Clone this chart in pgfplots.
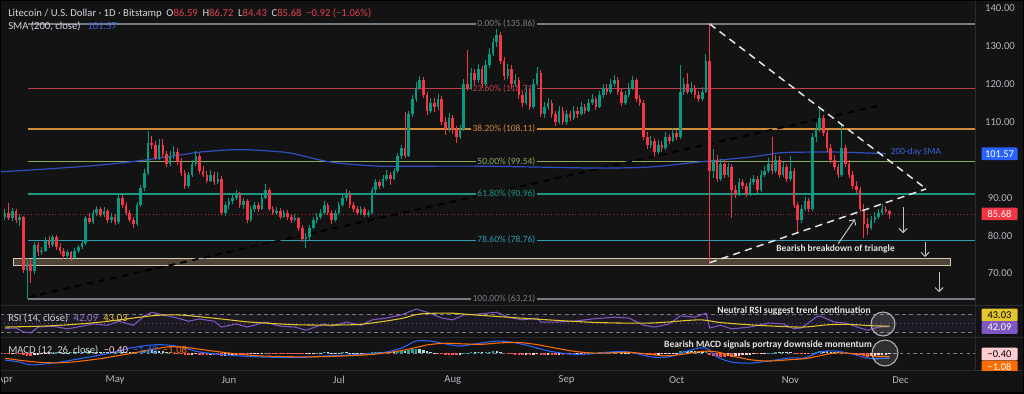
\documentclass[border=0pt]{standalone}
\usepackage{pgfplots}
\pgfplotsset{compat=1.18}
\usepackage{pgfplotstable}
\usepackage{fontspec}
\setmainfont{Carlito}
\usetikzlibrary{arrows.meta}

\definecolor{bg}{HTML}{131313}
\definecolor{sep}{HTML}{2B2B2B}
\definecolor{axtxt}{HTML}{B2B5BE}
\definecolor{hdr}{HTML}{D1D4DC}
\definecolor{upc}{HTML}{089981}
\definecolor{dnc}{HTML}{F23645}
\definecolor{hred}{HTML}{E0404F}
\definecolor{smac}{HTML}{2E4FC4}
\definecolor{smat}{HTML}{3A62E0}
\definecolor{fibg}{HTML}{787B86}
\definecolor{fibr}{HTML}{C23E4E}
\definecolor{fibo}{HTML}{D08B3A}
\definecolor{fibgr}{HTML}{8AAE5C}
\definecolor{fibt}{HTML}{1E9683}
\definecolor{fibc}{HTML}{2C9CB2}
\definecolor{rsic}{HTML}{7E57C2}
\definecolor{rsim}{HTML}{E3C52E}
\definecolor{macdc}{HTML}{2962FF}
\definecolor{sigc}{HTML}{FF6D00}
\definecolor{hA}{HTML}{26A69A}
\definecolor{hB}{HTML}{B2DFDB}
\definecolor{hC}{HTML}{FFCDD2}
\definecolor{hD}{HTML}{FF5252}
\definecolor{tanb}{HTML}{D6C6AC}
\definecolor{tanf}{HTML}{4E4438}
\definecolor{annot}{HTML}{E6E6E6}
\newcommand{\tvf}[1]{\fontsize{#1}{#1}\selectfont}

\pgfplotstableread{
d o h l c
0 85.0 87.0 84.0 86.0
1 86.0 88.7 84.0 84.5
2 84.5 87.2 83.8 86.5
3 86.5 87.0 83.2 84.0
4 84.0 85.6 82.5 84.8
5 84.8 85.2 70.2 71.0
6 71.0 74.0 63.21 72.5
7 72.5 73.8 67.4 70.5
8 70.5 78.2 69.8 77.5
9 77.5 78.4 74.6 75.5
10 75.5 77.0 74.8 76.0
11 76.0 79.6 75.5 78.5
12 78.5 79.8 76.8 77.5
13 77.5 80.2 77.0 79.5
14 79.5 80.0 76.2 77.0
15 77.0 78.0 75.2 76.0
16 76.0 76.8 73.8 74.5
17 74.5 76.2 73.9 75.5
18 75.5 76.0 73.2 74.0
19 74.0 76.8 73.6 76.0
20 76.0 77.6 75.4 77.0
21 77.0 78.8 76.3 78.0
22 78.0 85.2 77.6 84.5
23 84.5 85.8 82.9 83.5
24 83.5 86.8 83.0 86.0
25 86.0 87.9 85.2 87.0
26 87.0 87.6 84.8 85.5
27 85.5 87.4 85.0 86.5
28 86.5 87.0 83.2 84.0
29 84.0 85.9 83.4 85.0
30 85.0 85.6 82.8 83.5
31 83.5 91.2 83.0 90.0
32 90.0 90.8 87.2 88.0
33 88.0 88.9 85.4 86.0
34 86.0 86.8 83.5 84.0
35 84.0 84.9 82.0 83.0
36 83.0 88.9 82.6 88.0
37 88.0 93.4 87.5 92.5
38 92.5 97.5 91.8 96.5
39 96.5 107.5 95.9 104.5
40 104.5 106.2 102.8 104.0
41 104.0 105.0 99.8 100.5
42 100.5 105.6 100.0 104.0
43 104.0 105.4 100.6 101.5
44 101.5 102.4 98.2 99.0
45 99.0 102.2 98.4 101.0
46 101.0 103.6 100.2 102.0
47 102.0 103.0 98.6 99.5
48 99.5 100.4 95.8 96.5
49 96.5 97.2 92.4 93.0
50 93.0 96.8 92.6 96.0
51 96.0 99.8 95.5 99.0
52 99.0 102.3 98.4 101.0
53 101.0 101.8 96.2 97.0
54 97.0 98.4 95.4 96.0
55 96.0 97.0 93.8 94.5
56 94.5 97.2 94.0 96.0
57 96.0 96.8 93.2 94.0
58 94.0 96.8 93.5 95.0
59 95.0 95.8 85.4 86.0
60 86.0 88.9 85.2 88.0
61 88.0 89.8 87.1 89.0
62 89.0 91.0 88.2 90.0
63 90.0 92.0 89.3 91.0
64 91.0 91.6 87.2 88.0
65 88.0 89.8 87.0 89.0
66 89.0 89.6 83.2 84.0
67 84.0 87.8 83.6 87.0
68 87.0 88.9 86.1 88.0
69 88.0 88.8 86.2 87.0
70 87.0 90.9 86.6 90.0
71 90.0 93.7 89.5 92.0
72 92.0 92.6 86.4 87.0
73 87.0 87.9 85.3 86.0
74 86.0 87.5 85.5 86.5
75 86.5 87.2 84.3 85.0
76 85.0 86.8 84.6 86.0
77 86.0 86.7 84.2 85.0
78 85.0 85.7 83.3 84.0
79 84.0 85.6 83.5 84.5
80 84.5 85.0 81.3 82.0
81 82.0 82.8 78.4 79.0
82 79.0 80.6 76.8 79.5
83 79.5 82.8 78.9 82.0
84 82.0 84.9 81.6 84.0
85 84.0 85.8 83.2 85.0
86 85.0 86.9 84.4 86.0
87 86.0 89.2 85.5 88.0
88 88.0 88.7 85.3 86.0
89 86.0 86.8 83.1 84.0
90 84.0 86.7 83.5 86.0
91 86.0 88.9 85.4 88.0
92 88.0 90.8 87.6 90.0
93 90.0 92.4 89.2 91.0
94 91.0 91.8 87.3 88.0
95 88.0 88.8 86.3 87.0
96 87.0 87.9 85.4 86.0
97 86.0 87.8 85.5 87.0
98 87.0 87.6 84.8 85.5
99 85.5 86.8 84.9 86.0
100 86.0 92.9 85.6 92.0
101 92.0 94.8 91.3 94.0
102 94.0 94.7 92.2 93.0
103 93.0 95.9 92.5 95.0
104 95.0 97.2 94.3 96.0
105 96.0 96.8 93.2 95.0
106 95.0 97.8 94.6 97.0
107 97.0 101.8 96.4 101.0
108 101.0 103.9 100.2 103.0
109 103.0 112.5 100.4 101.0
110 101.0 112.8 100.6 112.0
111 112.0 117.2 111.4 116.0
112 116.0 120.4 115.2 119.0
113 119.0 122.2 118.3 121.0
114 121.0 121.9 116.2 117.0
115 117.0 117.8 111.8 113.0
116 113.0 116.3 112.4 115.0
117 115.0 116.2 112.6 114.0
118 114.0 117.4 113.2 116.0
119 116.0 116.8 109.2 110.0
120 110.0 111.2 106.6 108.0
121 108.0 112.3 107.4 111.0
122 111.0 111.8 106.8 108.0
123 108.0 108.9 104.4 106.0
124 106.0 109.2 105.4 108.0
125 108.0 121.2 107.5 120.0
126 120.0 129.0 118.2 119.0
127 119.0 124.3 118.4 123.0
128 123.0 124.0 119.8 121.0
129 121.0 125.4 120.2 124.0
130 124.0 124.8 118.9 120.0
131 120.0 126.3 119.4 125.0
132 125.0 129.4 124.2 128.0
133 128.0 132.2 127.3 131.0
134 131.0 134.5 129.8 133.0
135 133.0 133.8 125.2 126.0
136 126.0 127.2 121.0 122.0
137 122.0 125.4 121.3 124.0
138 124.0 124.9 118.8 120.0
139 120.0 122.6 119.2 121.0
140 121.0 121.8 116.1 117.0
141 117.0 118.2 114.0 115.0
142 115.0 119.2 114.4 118.0
143 118.0 118.9 113.2 114.0
144 114.0 121.3 113.5 120.0
145 120.0 124.5 119.4 123.0
146 123.0 123.8 111.2 112.0
147 112.0 115.3 111.0 114.0
148 114.0 116.4 113.2 115.0
149 115.0 115.8 110.9 112.0
150 112.0 112.9 108.8 110.0
151 110.0 114.2 109.4 113.0
152 113.0 113.8 109.2 110.0
153 110.0 113.2 109.1 112.0
154 112.0 112.8 110.2 111.0
155 111.0 114.3 110.4 113.0
156 113.0 113.9 111.1 112.0
157 112.0 115.2 111.5 114.0
158 114.0 114.8 112.2 113.0
159 113.0 116.1 112.6 115.0
160 115.0 117.3 114.4 116.0
161 116.0 116.7 113.1 114.0
162 114.0 118.2 113.6 117.0
163 117.0 120.1 116.4 119.0
164 119.0 119.9 117.2 118.0
165 118.0 121.4 117.3 120.0
166 120.0 122.3 119.2 121.0
167 121.0 121.8 117.2 118.0
168 118.0 118.7 114.3 115.0
169 115.0 118.1 114.4 117.0
170 117.0 120.2 116.5 119.0
171 119.0 122.0 118.4 121.0
172 121.0 121.6 115.2 116.0
173 116.0 117.1 114.1 115.0
174 115.0 115.8 105.2 106.0
175 106.0 107.2 102.9 104.0
176 104.0 106.3 103.2 105.0
177 105.0 105.8 100.7 102.0
178 102.0 105.1 101.4 104.0
179 104.0 104.9 102.1 103.0
180 103.0 107.2 102.5 106.0
181 106.0 106.8 104.2 105.0
182 105.0 108.3 104.6 107.0
183 107.0 107.9 105.1 106.0
184 106.0 125.0 105.6 118.0
185 118.0 121.6 117.2 120.0
186 120.0 122.8 117.3 118.0
187 118.0 120.4 117.4 119.0
188 119.0 119.8 116.2 117.0
189 117.0 118.1 115.3 116.0
190 116.0 119.2 115.5 118.0
191 118.0 128.0 117.6 126.0
192 126.0 135.86 72.5 97.0
193 97.0 102.8 95.2 100.0
194 100.0 101.2 94.1 95.0
195 95.0 100.3 94.4 99.0
196 99.0 99.9 95.1 96.0
197 96.0 99.2 95.4 98.0
198 98.0 98.8 84.7 92.0
199 92.0 93.2 89.8 91.0
200 91.0 95.1 90.4 94.0
201 94.0 94.9 92.2 93.0
202 93.0 93.8 90.1 91.0
203 91.0 95.2 90.5 94.0
204 94.0 96.1 93.4 95.0
205 95.0 95.7 91.2 92.0
206 92.0 97.2 91.5 96.0
207 96.0 98.3 95.4 97.0
208 97.0 100.4 96.5 99.0
209 99.0 106.0 96.2 97.0
210 97.0 101.3 96.4 100.0
211 100.0 100.9 95.1 96.0
212 96.0 99.4 95.5 98.0
213 98.0 98.8 94.2 95.0
214 95.0 101.0 94.4 97.0
215 97.0 97.8 87.2 88.0
216 88.0 88.9 81.0 84.0
217 84.0 88.1 83.4 87.0
218 87.0 90.2 86.4 89.0
219 89.0 89.9 86.2 87.0
220 87.0 107.0 86.5 106.0
221 106.0 109.6 104.8 108.0
222 108.0 113.5 107.2 111.0
223 111.0 111.8 106.2 107.0
224 107.0 107.9 102.1 103.0
225 103.0 104.2 99.2 100.0
226 100.0 101.3 97.2 98.0
227 98.0 98.9 95.1 96.0
228 96.0 109.5 95.4 103.0
229 103.0 103.9 98.2 99.0
230 99.0 99.8 95.1 96.0
231 96.0 97.1 92.2 93.0
232 93.0 94.3 91.2 92.0
233 92.0 92.8 86.3 87.0
234 87.0 88.2 79.4 83.0
235 83.0 84.6 80.2 82.0
236 82.0 85.1 81.4 84.0
237 84.0 86.2 83.3 85.0
238 85.0 87.1 84.4 86.0
239 86.0 88.2 85.3 87.0
240 87.0 87.9 85.8 86.59
241 86.59 86.72 84.43 85.68
}\candles

\pgfplotstableread{
v k
-0.3 4
-0.4 4
-0.3 3
-0.3 4
-0.4 4
-0.6 4
-0.8 4
-0.9 4
-0.7 3
-0.5 3
-0.4 3
-0.3 3
-0.2 3
0.1 1
0.2 1
0.2 2
0.1 2
0.1 2
0.2 1
0.2 2
0.3 1
0.4 1
0.5 1
0.5 2
0.4 2
0.4 2
0.3 2
0.3 2
0.2 2
0.2 2
0.2 2
0.4 1
0.4 2
0.3 2
0.2 2
0.2 2
0.4 1
0.6 1
0.8 1
1.0 1
0.9 2
0.7 2
0.7 2
0.5 2
0.3 2
0.2 2
-0.1 4
-0.2 4
-0.4 4
-0.6 4
-0.6 4
-0.5 3
-0.4 3
-0.5 4
-0.5 4
-0.6 4
-0.5 3
-0.5 4
-0.5 4
-0.9 4
-0.8 3
-0.7 3
-0.6 3
-0.5 3
-0.5 4
-0.6 4
-0.6 4
-0.4 3
-0.3 3
-0.2 3
-0.1 3
0.1 1
-0.1 4
-0.2 4
-0.2 4
-0.2 4
-0.2 4
-0.2 4
-0.2 4
-0.2 4
-0.3 4
-0.4 4
-0.3 3
-0.2 3
-0.1 3
0.1 1
0.1 2
0.2 1
0.2 2
0.1 2
0.1 2
0.1 2
0.2 1
0.2 2
0.1 2
0.1 2
0.05 2
0.05 2
-0.05 4
0.05 1
0.3 1
0.4 1
0.4 2
0.4 2
0.4 2
0.4 2
0.4 2
0.5 1
0.6 1
0.6 2
0.9 1
1.1 1
1.2 1
1.1 2
0.8 2
0.5 2
0.3 2
0.1 2
-0.1 4
-0.3 4
-0.5 4
-0.5 4
-0.6 4
-0.7 4
-0.6 3
0.05 1
0.1 1
0.2 1
0.2 2
0.3 1
0.2 2
0.3 1
0.4 1
0.5 1
0.5 2
0.2 2
-0.1 4
-0.2 4
-0.4 4
-0.5 4
-0.6 4
-0.7 4
-0.6 3
-0.7 4
-0.5 3
-0.4 3
-0.7 4
-0.7 4
-0.6 3
-0.6 4
-0.6 4
-0.5 3
-0.5 4
-0.4 3
-0.3 3
-0.3 4
-0.2 3
-0.1 3
-0.1 4
0.05 1
0.1 1
0.1 2
0.2 1
0.3 1
0.3 2
0.3 2
0.3 2
0.2 2
0.1 2
0.1 2
0.1 2
0.2 1
0.1 2
-0.1 4
-0.4 4
-0.6 4
-0.6 4
-0.6 4
-0.5 3
-0.4 3
-0.3 3
-0.2 3
-0.1 3
-0.05 3
0.5 1
0.6 1
0.6 2
0.5 2
0.5 2
0.4 2
0.4 2
0.6 1
-0.6 4
-0.8 4
-1.0 4
-1.0 4
-1.0 4
-0.9 3
-1.0 4
-0.9 3
-0.8 3
-0.7 3
-0.6 3
-0.5 3
-0.4 3
-0.4 4
-0.2 3
-0.1 3
0.05 1
0.1 1
0.2 1
0.2 2
0.2 2
0.2 2
0.2 2
-0.2 4
-0.4 4
-0.4 4
-0.3 3
-0.3 4
0.1 1
0.4 1
0.6 1
0.6 2
0.5 2
0.4 2
0.3 2
0.2 2
0.3 1
0.2 2
-0.2 4
-0.4 4
-0.5 4
-0.7 4
-0.9 4
-1.0 4
-0.9 3
-0.8 3
-0.7 3
-0.6 3
-0.5 3
-0.4 3
}\hist

\begin{document}
\begin{tikzpicture}
\fill[bg] (0pt,0pt) rectangle (768pt,-294.75pt);
\path[use as bounding box] (0pt,0pt) rectangle (768pt,-294.75pt);

%% ---------------- price panel ----------------
\begin{axis}[
  at={(0pt,0pt)}, anchor=north west,
  scale only axis, width=731.25pt, height=228.75pt,
  xmin=-1.36, xmax=264.3, ymin=61.63, ymax=142.19,
  axis line style={draw=none}, clip=false,
  xtick=\empty,
  ytick={70,80,90,110,120,130,140},
  yticklabel pos=right, ytick style={draw=none},
  /pgf/number format/assume math mode=true,
  scaled y ticks=false,
  yticklabel={\pgfmathprintnumber[fixed,fixed zerofill,precision=2]{\tick}},
  y tick label style={font=\tvf{8pt}, text=axtxt, anchor=center, xshift=18.75pt},
]
% fibonacci levels
\draw[fibg, line width=0.9pt]  (axis cs:6.2,135.86) -- (axis cs:264.3,135.86);
\draw[fibr, line width=0.9pt]  (axis cs:6.2,118.71) -- (axis cs:264.3,118.71);
\draw[fibo, line width=0.9pt]  (axis cs:6.2,108.11) -- (axis cs:264.3,108.11);
\draw[fibgr, line width=0.9pt] (axis cs:6.2,99.54) -- (axis cs:264.3,99.54);
\draw[fibt, line width=0.9pt]  (axis cs:6.2,90.96) -- (axis cs:264.3,90.96);
\draw[fibc, line width=0.9pt]  (axis cs:6.2,78.76) -- (axis cs:264.3,78.76);
\draw[fibg, line width=0.9pt]  (axis cs:6.2,63.21) -- (axis cs:264.3,63.21);
% support zone
\draw[tanb, fill=tanf, line width=0.75pt] (axis cs:2.2,72.1) rectangle (axis cs:257.5,73.96);
% last price line
\draw[dnc!75!black, dotted, line width=0.6pt] (axis cs:-1.36,85.68) -- (axis cs:264.3,85.68);
% long-term black dashed trend line
\addplot[black, line width=1.5pt, dash pattern=on 5pt off 4pt, forget plot] coordinates {(6.3,63.7) (239.2,114.5)};
\begin{scope}[every node/.style={anchor=east, fill=bg, inner sep=1.2pt, font=\tvf{7.1pt}}]
\node[text=fibg]  at (axis cs:145,135.86) {0.00\% (135.86)};
\node[text=fibr]  at (axis cs:145,118.71) {23.60\% (118.71)};
\node[text=fibo]  at (axis cs:145,108.11) {38.20\% (108.11)};
\node[text=fibgr] at (axis cs:145,99.54) {50.00\% (99.54)};
\node[text=fibt]  at (axis cs:145,90.96) {61.80\% (90.96)};
\node[text=fibc]  at (axis cs:145,78.76) {78.60\% (78.76)};
\node[text=fibg]  at (axis cs:145,63.21) {100.00\% (63.21)};
\end{scope}
% 200-day SMA
\addplot[smac, line width=0.9pt, smooth, forget plot] coordinates {
(-1.36,96.8) (12,97.6) (26,98.6) (38,99.9) (48,101.3) (53,102.0) (61,102.6) (67,102.6)
(76,102.0) (80,101.3) (86,99.9) (91,99.1) (102,98.3) (113,98.3) (129,98.3) (143,98.1)
(162,97.8) (176,98.1) (189,99.4) (203,100.7) (211,101.8) (217,102.0) (228,102.0) (240,101.6)};
% candles: wicks
\addplot[forget plot, draw=none, mark=none,
  restrict expr to domain={\thisrow{c}-\thisrow{o}}{0:1000},
  error bars/.cd, y dir=plus, y explicit, error mark=none,
  error bar style={draw=upc, line width=0.75pt}]
  table[x=d, y=l, y error expr=\thisrow{h}-\thisrow{l}] {\candles};
\addplot[forget plot, draw=none, mark=none,
  restrict expr to domain={\thisrow{c}-\thisrow{o}}{-1000:-0.0001},
  error bars/.cd, y dir=plus, y explicit, error mark=none,
  error bar style={draw=dnc, line width=0.75pt}]
  table[x=d, y=l, y error expr=\thisrow{h}-\thisrow{l}] {\candles};
% candles: bodies
\addplot[forget plot, draw=none, mark=none,
  restrict expr to domain={\thisrow{c}-\thisrow{o}}{0:1000},
  error bars/.cd, y dir=plus, y explicit, error mark=none,
  error bar style={draw=upc, line width=1.95pt}]
  table[x=d, y=o, y error expr=\thisrow{c}-\thisrow{o}] {\candles};
\addplot[forget plot, draw=none, mark=none,
  restrict expr to domain={\thisrow{c}-\thisrow{o}}{-1000:-0.0001},
  error bars/.cd, y dir=plus, y explicit, error mark=none,
  error bar style={draw=dnc, line width=1.95pt}]
  table[x=d, y=c, y error expr=\thisrow{o}-\thisrow{c}] {\candles};
% triangle lines
\addplot[annot, line width=1.1pt, dash pattern=on 5.5pt off 3.8pt, forget plot] coordinates {(192,135.86) (251,92.3)};
\addplot[annot, line width=1.1pt, dash pattern=on 5.5pt off 3.8pt, forget plot] coordinates {(192,72.8) (251,92.3)};
% arrows
\begin{scope}[draw=annot!85!black, line width=0.75pt, -{Straight Barb[length=3pt,width=6pt]}]
\draw (axis cs:244.7,87.5) -- (axis cs:244.7,80.6);
\draw (axis cs:250.7,78.3) -- (axis cs:250.7,74.3);
\draw (axis cs:254.5,70.3) -- (axis cs:254.5,65.0);
\draw (axis cs:227.0,77.8) -- (axis cs:231.6,84.3);
\end{scope}
\node[text=annot, font=\bfseries\tvf{7.1pt}, inner sep=0pt] at (axis cs:226.3,76.3) {Bearish breakdown of triangle};
\node[text=smat, font=\tvf{7pt}, anchor=west, inner sep=0pt] at (axis cs:241.3,102.0) {200-day SMA};
\end{axis}

%% ---------------- RSI panel ----------------
\begin{axis}[
  at={(0pt,-229.5pt)}, anchor=north west,
  scale only axis, width=731.25pt, height=23.25pt,
  xmin=-1.36, xmax=264.3, ymin=18.9, ymax=87.8,
  axis line style={draw=none}, xtick=\empty, ytick=\empty, clip=true,
]
\fill[rsic, opacity=0.09] (axis cs:-1.36,30) rectangle (axis cs:264.3,70);
\draw[fibg, dash pattern=on 3pt off 2.5pt, line width=0.5pt] (axis cs:-1.36,70) -- (axis cs:264.3,70);
\draw[fibg!60!bg, dash pattern=on 1pt off 2pt, line width=0.5pt] (axis cs:-1.36,50) -- (axis cs:264.3,50);
\draw[fibg, dash pattern=on 3pt off 2.5pt, line width=0.5pt] (axis cs:-1.36,30) -- (axis cs:264.3,30);
\addplot[rsic, line width=0.8pt, forget plot] coordinates {
(0,38) (3,39) (5,30) (7,28) (9,41) (13,43) (17,37) (21,43) (24,48) (28,45) (31,54) (35,45)
(38,66) (40,74) (43,68) (47,61) (50,54) (53,59) (57,54) (59,41) (63,48) (66,41) (71,52)
(75,43) (79,41) (82,34) (87,48) (89,43) (93,52) (97,45) (100,57) (104,61) (108,68) (112,81)
(115,74) (119,61) (122,57) (125,68) (129,70) (134,74) (137,63) (141,57) (145,61) (146,52)
(150,52) (155,54) (160,59) (166,63) (170,61) (174,45) (177,41) (181,48) (184,66) (188,63)
(191,72) (192,39) (195,45) (198,37) (203,41) (208,50) (212,48) (215,37) (217,39) (221,63)
(222,66) (226,52) (229,50) (233,39) (235,34) (238,41) (241,42.09)};
\addplot[rsim, line width=0.8pt, smooth, forget plot] coordinates {
(0,41) (13,44) (26,52) (40,66) (47,68) (53,64) (60,58) (67,52) (80,46) (94,46) (100,50)
(108,60) (113,70) (121,72) (128,68) (135,64) (148,57) (162,51) (176,50) (189,57) (195,51)
(205,45) (217,41) (224,46) (230,47) (236,44) (241,43.03)};
\end{axis}

%% ---------------- MACD panel ----------------
\begin{axis}[
  at={(0pt,-253.5pt)}, anchor=north west,
  scale only axis, width=731.25pt, height=24pt,
  xmin=-1.36, xmax=264.3, ymin=-4.86, ymax=4.29,
  axis line style={draw=none}, ytick=\empty, clip=true,
  xtick={0,30,61,91,122,153,183,214,244},
  xticklabels={Apr,May,Jun,Jul,Aug,Sep,Oct,Nov,Dec},
  xtick style={draw=none},
  x tick label style={font=\tvf{8pt}, text=axtxt, anchor=center, yshift=-7.5pt},
]
\draw[fibg, dash pattern=on 2.5pt off 2.5pt, line width=0.4pt] (axis cs:-1.36,0) -- (axis cs:264.3,0);
\addplot[ycomb, hA, line width=1.9pt, forget plot, restrict expr to domain={\thisrow{k}}{0.5:1.5}] table[x expr=\coordindex, y=v] {\hist};
\addplot[ycomb, hB, line width=1.9pt, forget plot, restrict expr to domain={\thisrow{k}}{1.5:2.5}] table[x expr=\coordindex, y=v] {\hist};
\addplot[ycomb, hC, line width=1.9pt, forget plot, restrict expr to domain={\thisrow{k}}{2.5:3.5}] table[x expr=\coordindex, y=v] {\hist};
\addplot[ycomb, hD, line width=1.9pt, forget plot, restrict expr to domain={\thisrow{k}}{3.5:4.5}] table[x expr=\coordindex, y=v] {\hist};
\addplot[macdc, line width=0.8pt, smooth, forget plot] coordinates {
(0,-2.0) (4,-2.6) (7,-3.4) (11,-3.1) (15,-2.6) (20,-1.7) (26,-0.6) (30,0.3) (34,1.4) (40,2.3)
(44,2.3) (48,1.7) (53,0.3) (61,-0.6) (69,-1.1) (80,-1.3) (86,-0.9) (93,-0.6) (99,-0.3) (104,0.3)
(108,1.4) (112,3.4) (116,3.4) (120,2.6) (124,2.0) (128,2.6) (134,3.4) (138,3.1) (143,2.0) (148,0.6)
(154,-0.3) (159,-0.3) (165,0.3) (170,0.3) (176,-1.1) (181,-1.1) (187,0.9) (191,1.4) (194,-1.1)
(198,-2.6) (203,-2.9) (208,-2.3) (214,-1.4) (218,-1.4) (222,0.3) (226,0.6) (230,-0.1) (233,-0.9)
(236,-1.6) (239,-1.6) (241,-1.48)};
\addplot[sigc, line width=0.8pt, smooth, forget plot] coordinates {
(0,-1.5) (5,-2.2) (10,-2.7) (15,-2.8) (20,-2.4) (26,-1.6) (30,-0.9) (35,0.0) (40,1.0) (45,1.8)
(50,1.5) (55,0.8) (61,0.0) (69,-0.8) (80,-1.1) (88,-1.0) (95,-0.7) (100,-0.4) (105,0.2) (110,1.1)
(115,2.3) (120,2.8) (125,2.6) (130,2.5) (135,2.9) (140,3.0) (145,2.4) (150,1.4) (155,0.5) (160,0.0)
(165,0.0) (170,0.2) (175,-0.3) (180,-0.8) (185,-0.3) (190,0.5) (194,0.3) (198,-0.8) (203,-1.9)
(208,-2.3) (214,-1.9) (218,-1.6) (222,-0.8) (226,0.0) (230,-0.1) (233,-0.4) (236,-0.8) (239,-1.0)
(241,-1.08)};
\end{axis}

%% ---------------- overlay in pixel coordinates ----------------
\begin{scope}[x=0.75pt, y=-0.75pt]
% panel separators and frame
\draw[sep, line width=0.75pt] (0,305.5) -- (1024,305.5);
\draw[sep, line width=0.75pt] (0,337.5) -- (1024,337.5);
\fill[bg] (975.5,370.5) rectangle (1024,393);
\draw[sep, line width=0.75pt] (0,370.5) -- (1024,370.5);
\draw[sep, line width=0.75pt] (975.5,0) -- (975.5,370.5);
\draw[sep!120!white, line width=2.2pt] (0,0) rectangle (1024,393);
% header
\node[anchor=west, text=hdr, font=\tvf{8pt}, inner sep=0pt] at (8,13)
  {Litecoin / U.S. Dollar · 1D · Bitstamp\hspace{3.5pt}O\textcolor{hred}{86.59}\hspace{3.5pt}H\textcolor{hred}{86.72}\hspace{3.5pt}L\textcolor{hred}{84.43}\hspace{3.5pt}C\textcolor{hred}{85.68}\hspace{3.5pt}\textcolor{hred}{−0.92 (−1.06\%)}};
\node[anchor=west, text=hdr, font=\tvf{8pt}, inner sep=0pt] at (8,26)
  {SMA (200, close)\hspace{5pt}\textcolor{smat}{101.57}};
\node[anchor=west, text=hdr, font=\tvf{8pt}, inner sep=0pt] at (8,318)
  {RSI (14, close)\hspace{4pt}\textcolor{rsic!80!white}{42.09}\hspace{4pt}\textcolor{rsim}{43.03}};
\node[anchor=west, text=hdr, font=\tvf{8pt}, inner sep=0pt] at (8,350)
  {MACD (12, 26, close)\hspace{4pt}\textcolor{hC}{−0.40}\hspace{4pt}\textcolor{macdc}{−1.48}\hspace{4pt}\textcolor{sigc}{−1.08}};
% annotations in the lower panels
\node[text=annot, font=\bfseries\tvf{7.2pt}, inner sep=0pt] at (794,311) {Neutral RSI suggest trend continuation};
\node[text=annot, font=\bfseries\tvf{7.2pt}, inner sep=0pt] at (768,345) {Bearish MACD signals portray downside momentum};
\draw[annot!80!black, fill=white, fill opacity=0.12, line width=0.75pt] (883,324) circle (12);
\draw[annot!80!black, fill=white, fill opacity=0.12, line width=0.75pt] (885,353) circle (13);
% right-scale value boxes
\begin{scope}[every node/.style={minimum width=27pt, minimum height=9.5pt, inner sep=0pt, font=\tvf{7.8pt}, rounded corners=0.8pt}]
\node[fill=macdc, text=white] at (999.5,153.8) {101.57};
\node[fill=dnc, text=white] at (999.5,213.9) {85.68};
\node[fill=rsim, text=black] at (999.5,315) {43.03};
\node[fill=rsic, text=white] at (999.5,327.5) {42.09};
\node[fill=hC, text=black] at (999.5,354) {−0.40};
\node[fill=sigc, text=white] at (999.5,367) {−1.08};
\end{scope}
\fill[bg] (976.5,371.2) rectangle (1022.9,391.8);
\end{scope}
\end{tikzpicture}
\end{document}
